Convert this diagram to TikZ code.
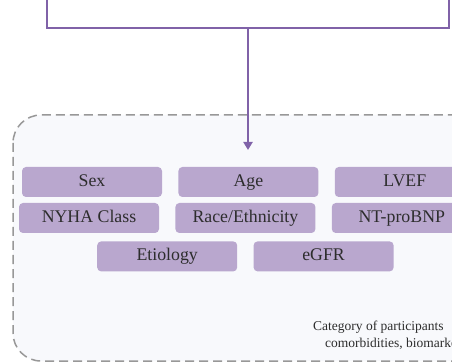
\documentclass[tikz,border=0pt]{standalone}
\usepackage{fontspec}
\setmainfont{Liberation Serif}
\usetikzlibrary{arrows.meta,positioning,calc}
\definecolor{lilac}{RGB}{185,167,206}
\definecolor{arrowpurple}{RGB}{128,98,168}
\definecolor{panelbg}{RGB}{248,249,252}
\definecolor{dashgrey}{RGB}{152,152,152}
\definecolor{labelgrey}{RGB}{45,45,45}

\begin{document}
\begin{tikzpicture}[x=1pt,y=-1pt,>=Triangle,node distance=16pt,
  catbox/.style={fill=lilac,rounded corners=4pt,minimum width=140pt,minimum height=30pt,inner sep=0pt,text height=12pt,text depth=3.5pt,text=labelgrey,font=\fontsize{17.8}{20}\selectfont},
  link/.style={draw=arrowpurple,line width=2.5pt},
  note/.style={anchor=base west,inner sep=0pt,text=labelgrey,font=\fontsize{13.5}{16}\selectfont}]

  \useasboundingbox (0,0) rectangle (452,363);
  \clip (0,0) rectangle (452,363);
  \fill[white] (0,0) rectangle (452,363);

  \draw[dashgrey,fill=panelbg,line width=1.5pt,dash pattern=on 9pt off 5pt,rounded corners=28pt] (13,115) rectangle (490,361);

  \coordinate (bl) at (47,0);
  \coordinate (br) at (449,0);
  \coordinate (bl2) at (47,28);
  \coordinate (br2) at (449,28);
  \coordinate (stem) at (248,28);
  \coordinate (tip) at (248,150);

  \path[link] (bl) -- (bl2) -- (br2) -- (br);
  \path[link,-{Triangle[width=9pt,length=8pt]}] (stem) -- (tip);

  \node[catbox] (sex) at (92,182) {Sex};
  \node[catbox] (age) [right=of sex] {Age};
  \node[catbox] (lvef) [right=of age] {LVEF};
  \node[catbox] (nyha) at (89,218) {NYHA Class};
  \node[catbox] (race) [right=of nyha] {Race/Ethnicity};
  \node[catbox] (bnp) [right=of race] {NT-proBNP};
  \node[catbox] (etio) [below=8pt of $(nyha.south)!.5!(race.south)$,anchor=north] {Etiology};
  \node[catbox] (egfr) [right=of etio] {eGFR};

  \node[note] (cat) at (313,330) {Category of participants};
  \node[note] (como) at (325,347) {comorbidities, biomarkers};

\end{tikzpicture}
\end{document}
